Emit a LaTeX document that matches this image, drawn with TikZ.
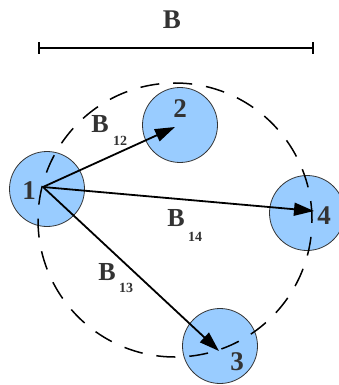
\documentclass[tikz,border=0pt]{standalone}
\usepackage{fontspec}
\setmainfont{Liberation Serif}
\usetikzlibrary{arrows.meta}
\definecolor{nodeblue}{HTML}{99CCFF}
\definecolor{txtgray}{HTML}{333333}
\begin{document}
\begin{tikzpicture}[x=1pt,y=-1pt,
  ball/.style={circle,draw=black!80,line width=0.8pt,fill=nodeblue,minimum size=75pt,inner sep=0pt},
  num/.style={font=\fontsize{27}{27}\selectfont\bfseries,text=txtgray,inner sep=0pt},
  blab/.style={font=\fontsize{26}{26}\selectfont\bfseries,text=txtgray,inner sep=0pt},
  sublab/.style={font=\fontsize{14}{14}\selectfont\bfseries,text=txtgray,inner sep=0pt},
  link/.style={line width=1.8pt,-{Triangle[length=20pt,width=13pt]}},
  scalebar/.style={line width=2pt},
  ring/.style={line width=1.5pt,dash pattern=on 19pt off 14pt}]
\useasboundingbox (0,0) rectangle (339,385);
% balls
\node[ball] (n1) at (47,189) {};
\node[ball] (n2) at (180,125) {};
\node[ball] (n4) at (307,213) {};
\node[ball] (n3) at (220,346) {};
% big dashed ring
\node[circle,draw,ring,minimum size=274pt,inner sep=0pt] (ring) at (175,220) {};
% numbers
\node[num] (t1) at (29,191) {1};
\node[num] (t2) at (180,109) {2};
\node[num] (t4) at (324,216) {4};
\node[num] (t3) at (237,362) {3};
% arrows
\coordinate (o) at (43,187);
\coordinate (e2) at (175,127);
\coordinate (e4) at (314,211);
\coordinate (e3) at (219,351);
\draw[link] (o) -- (e2);
\draw[link] (o) -- (e4);
\draw[link] (o) -- (e3);
% labels
\node[blab] (b12) at (100,124) {B};
\node[sublab] (s12) at (120,141) {12};
\node[blab] (b14) at (176,218) {B};
\node[sublab] (s14) at (195,237) {14};
\node[blab] (b13) at (107,272) {B};
\node[sublab] (s13) at (126,288) {13};
% scale bar
\node[font=\fontsize{27}{27}\selectfont\bfseries,text=txtgray,inner sep=0pt] (B) at (172,20) {B};
\coordinate (sl) at (39,48);
\coordinate (sr) at (313,48);
\draw[scalebar] (sl) -- (sr);
\draw[scalebar] ([yshift=-6pt]sl) -- ([yshift=6pt]sl);
\draw[scalebar] ([yshift=-6pt]sr) -- ([yshift=6pt]sr);
\end{tikzpicture}
\end{document}
